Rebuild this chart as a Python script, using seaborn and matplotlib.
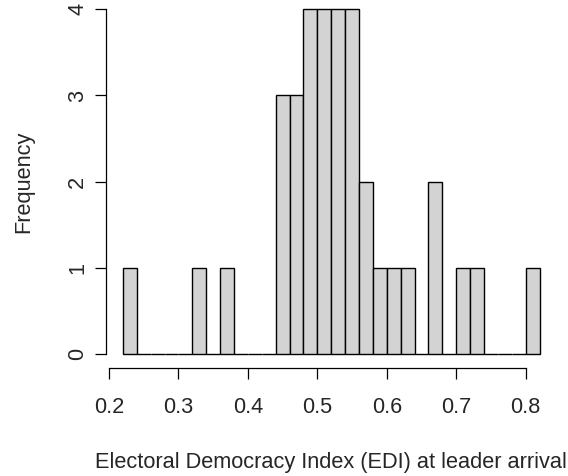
import numpy as np
import pandas as pd
import matplotlib
matplotlib.use("Agg")
import matplotlib.pyplot as plt
import seaborn as sns

# Histogram counts of EDI at leader arrival, bins of width 0.02 starting at 0.22
bin_edges = [0.22, 0.24, 0.26, 0.28, 0.30, 0.32, 0.34, 0.36, 0.38, 0.40,
             0.42, 0.44, 0.46, 0.48, 0.50, 0.52, 0.54, 0.56, 0.58, 0.60,
             0.62, 0.64, 0.66, 0.68, 0.70, 0.72, 0.74, 0.76, 0.78, 0.80, 0.82]
counts = [1, 0, 0, 0, 0, 1, 0, 1, 0, 0,
          0, 3, 3, 4, 4, 4, 4, 2, 1, 1,
          1, 0, 2, 0, 1, 1, 0, 0, 0, 1]
x_ticks = [0.2, 0.3, 0.4, 0.5, 0.6, 0.7, 0.8]
y_ticks = [0, 1, 2, 3, 4]

edges = np.array(bin_edges)
df = pd.DataFrame({"edi": (edges[:-1] + edges[1:]) / 2, "n": counts})

sns.set_style("ticks")
plt.rcParams["font.family"] = ["Liberation Sans", "DejaVu Sans"]

FS = 15.7
W, H = 568, 476
fig = plt.figure(figsize=(W / 100, H / 100), dpi=100)
left, right = 106.2 / W, 556.3 / W
bottom, top = 1 - 367.5 / H, 1 + 4.4 / H
ax = fig.add_axes([left, bottom, right - left, top - bottom])

sns.histplot(data=df, x="edi", weights="n", bins=list(bin_edges), ax=ax,
             color="#d3d3d3", edgecolor="black", linewidth=1.0, alpha=1)

xr = edges[-1] - edges[0]
ax.set_xlim(edges[0] - 0.04 * xr, edges[-1] + 0.04 * xr)
ax.set_ylim(-0.16, 4.16)

ax.set_xticks(x_ticks)
ax.set_xticklabels([f"{v:.1f}" for v in x_ticks], fontsize=FS)
ax.set_yticks(y_ticks)
ax.set_yticklabels([str(v) for v in y_ticks], fontsize=FS,
                   rotation=90, va="center")

for s in ("top", "right"):
    ax.spines[s].set_visible(False)
ax.spines["left"].set_bounds(0, 4)
ax.spines["bottom"].set_bounds(0.2, 0.8)
for s in ("left", "bottom"):
    ax.spines[s].set_linewidth(0.9)
    ax.spines[s].set_color("black")

ax.tick_params(axis="both", length=8, width=0.9, color="black")
ax.tick_params(axis="x", pad=13.5)
ax.tick_params(axis="y", pad=5)

ax.set_xlabel("Electoral Democracy Index (EDI) at leader arrival",
              fontsize=FS, labelpad=24.5)
ax.set_ylabel("Frequency", fontsize=FS, labelpad=24)

fig.savefig("out.png", dpi=100)
